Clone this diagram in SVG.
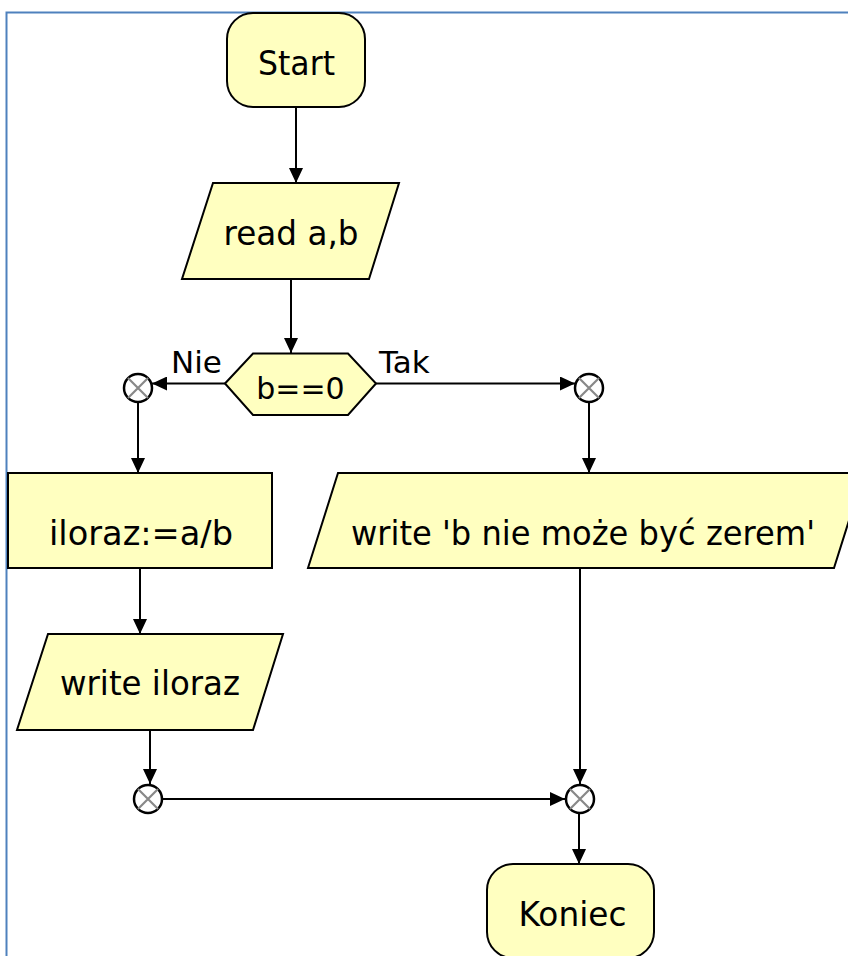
<svg xmlns="http://www.w3.org/2000/svg" width="848" height="956" viewBox="0 0 848 956">
<defs>
<style>
.shape{fill:#ffffc0;stroke:#000;stroke-width:2}
.t{font-family:"DejaVu Sans",Verdana,sans-serif;font-size:34px;fill:#000;text-anchor:middle}
.lbl{font-family:"DejaVu Sans",Verdana,sans-serif;font-size:31px;fill:#000}
.conn{fill:none;stroke:#000;stroke-width:2;marker-end:url(#arr)}
.jc{fill:#fff;stroke:#000;stroke-width:2.5}
.jx{stroke:#888;stroke-width:2.2}
</style>
<marker id="arr" viewBox="0 0 15 14" refX="15" refY="7" markerWidth="15" markerHeight="14" markerUnits="userSpaceOnUse" orient="auto">
<path d="M0,0 L15,7 L0,14 z" fill="#000"/>
</marker>
</defs>
<rect x="0" y="0" width="848" height="956" fill="#fff"/>
<rect x="6.5" y="12.5" width="860" height="960" fill="none" stroke="#4f81bd" stroke-width="2"/>

<g id="connectors">
<path class="conn" d="M296,107 L296,183"/>
<path class="conn" d="M291,279 L291,353"/>
<path class="conn" d="M225,383.5 L152,383.5"/>
<path class="conn" d="M376,383.5 L575,383.5"/>
<path class="conn" d="M138,403 L138,473"/>
<path class="conn" d="M589,403 L589,473"/>
<path class="conn" d="M140,568 L140,634"/>
<path class="conn" d="M150,730 L150,784"/>
<path class="conn" d="M580,568 L580,784"/>
<path class="conn" d="M163,799 L565,799"/>
<path class="conn" d="M579,814 L579,864"/>
</g>

<g id="start">
<rect class="shape" x="227" y="13" width="138" height="94" rx="26" ry="26"/>
<text class="t" x="296.5" y="75" textLength="77" lengthAdjust="spacingAndGlyphs">Start</text>
</g>

<g id="read">
<polygon class="shape" points="213,183 399,183 369,279 182,279"/>
<text class="t" x="291" y="245" textLength="135" lengthAdjust="spacingAndGlyphs">read a,b</text>
</g>

<g id="decision">
<polygon class="shape" points="225,383.5 253,353.5 348,353.5 376,383.5 348,415 253,415"/>
<text class="t" x="300.5" y="399" style="font-size:30px">b==0</text>
</g>

<g id="label-nie">
<text class="lbl" x="171" y="373">Nie</text>
</g>
<g id="label-tak">
<text class="lbl" x="379" y="373">Tak</text>
</g>

<g id="junction-left">
<circle class="jc" cx="138" cy="388" r="14"/>
<path class="jx" d="M128,378 L148,398 M148,378 L128,398"/>
</g>
<g id="junction-right">
<circle class="jc" cx="589" cy="388" r="14"/>
<path class="jx" d="M579,378 L599,398 M599,378 L579,398"/>
</g>

<g id="iloraz">
<rect class="shape" x="8" y="473" width="264" height="95"/>
<text class="t" x="141" y="545" textLength="184" lengthAdjust="spacingAndGlyphs">iloraz:=a/b</text>
</g>

<g id="write-error">
<polygon class="shape" points="338,473 864,473 834,568 308,568"/>
<text class="t" x="583" y="545" textLength="464" lengthAdjust="spacingAndGlyphs">write 'b nie może być zerem'</text>
</g>

<g id="write-iloraz">
<polygon class="shape" points="48,634 283,634 253,730 17,730"/>
<text class="t" x="150" y="695" textLength="180" lengthAdjust="spacingAndGlyphs">write iloraz</text>
</g>

<g id="merge-left">
<circle class="jc" cx="148" cy="799" r="14"/>
<path class="jx" d="M138,789 L158,809 M158,789 L138,809"/>
</g>
<g id="merge-right">
<circle class="jc" cx="580" cy="799" r="14"/>
<path class="jx" d="M570,789 L590,809 M590,789 L570,809"/>
</g>

<g id="koniec">
<rect class="shape" x="487" y="864" width="167" height="94" rx="26" ry="26"/>
<text class="t" x="572.5" y="926" textLength="108" lengthAdjust="spacingAndGlyphs">Koniec</text>
</g>
</svg>
